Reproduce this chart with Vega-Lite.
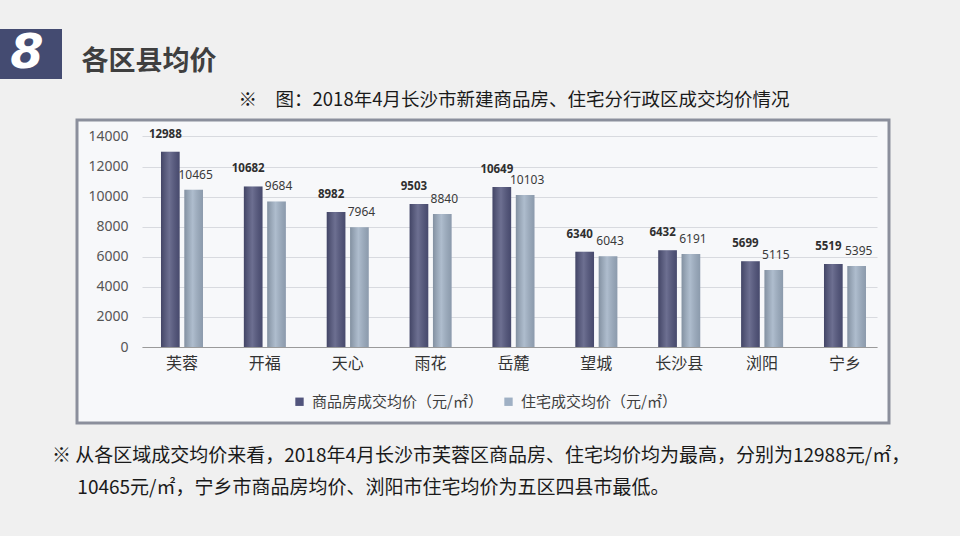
{
  "$schema": "https://vega.github.io/schema/vega-lite/v6.json",
  "background": "#f0f0f0",
  "padding": {"left": 0, "top": 29, "right": 60, "bottom": 50},
  "config": {
    "font": "Noto Sans CJK SC",
    "view": {"stroke": null},
    "title": {"fontWeight": "normal"}
  },
  "title": {
    "text": [
      "※ 从各区域成交均价来看，2018年4月长沙市芙蓉区商品房、住宅均价均为最高，分别为12988元/㎡，",
      "\u200b\u2003\u2004\u200b10465元/㎡，宁乡市商品房均价、浏阳市住宅均价为五区四县市最低。"
    ],
    "orient": "bottom",
    "anchor": "start",
    "dx": 52,
    "offset": 22,
    "fontSize": 19,
    "lineHeight": 32,
    "fontWeight": "normal",
    "color": "#1a1a1a"
  },
  "spacing": 13,
  "hconcat": [
    {
      "width": 62,
      "height": 50,
      "view": {"fill": "#444b71", "stroke": null},
      "data": {"values": [{"t": "8"}]},
      "mark": {"type": "text", "font": "DejaVu Sans", "fontSize": 48, "fontWeight": "bold", "fontStyle": "italic", "color": "#ffffff", "dx": -4, "baseline": "middle"},
      "encoding": {"text": {"field": "t"}}
    },
    {
      "spacing": 10,
      "vconcat": [
        {
          "width": 144,
          "height": 50,
          "data": {"values": [{"t": "各区县均价"}]},
          "mark": {"type": "text", "fontSize": 27, "fontWeight": "bold", "color": "#3f3f3f", "baseline": "middle", "dy": 8},
          "encoding": {"text": {"field": "t"}}
        },
        {
          "width": 812,
          "height": 303,
          "title": {
            "text": "※　图：2018年4月长沙市新建商品房、住宅分行政区成交均价情况",
            "anchor": "middle",
            "dx": 31,
            "offset": 11,
            "fontSize": 18.5,
            "fontWeight": "normal",
            "color": "#1a1a1a"
          },
          "view": {"fill": "#f7f8fa", "stroke": "#8b8f9c", "strokeWidth": 3},
          "data": {
            "values": [
              {"区": "芙蓉", "类型": "商品房成交均价（元/㎡）", "均价": 12988},
              {"区": "芙蓉", "类型": "住宅成交均价（元/㎡）", "均价": 10465},
              {"区": "开福", "类型": "商品房成交均价（元/㎡）", "均价": 10682},
              {"区": "开福", "类型": "住宅成交均价（元/㎡）", "均价": 9684},
              {"区": "天心", "类型": "商品房成交均价（元/㎡）", "均价": 8982},
              {"区": "天心", "类型": "住宅成交均价（元/㎡）", "均价": 7964},
              {"区": "雨花", "类型": "商品房成交均价（元/㎡）", "均价": 9503},
              {"区": "雨花", "类型": "住宅成交均价（元/㎡）", "均价": 8840},
              {"区": "岳麓", "类型": "商品房成交均价（元/㎡）", "均价": 10649},
              {"区": "岳麓", "类型": "住宅成交均价（元/㎡）", "均价": 10103},
              {"区": "望城", "类型": "商品房成交均价（元/㎡）", "均价": 6340},
              {"区": "望城", "类型": "住宅成交均价（元/㎡）", "均价": 6043},
              {"区": "长沙县", "类型": "商品房成交均价（元/㎡）", "均价": 6432},
              {"区": "长沙县", "类型": "住宅成交均价（元/㎡）", "均价": 6191},
              {"区": "浏阳", "类型": "商品房成交均价（元/㎡）", "均价": 5699},
              {"区": "浏阳", "类型": "住宅成交均价（元/㎡）", "均价": 5115},
              {"区": "宁乡", "类型": "商品房成交均价（元/㎡）", "均价": 5519},
              {"区": "宁乡", "类型": "住宅成交均价（元/㎡）", "均价": 5395}
            ]
          },
          "encoding": {
            "x": {
              "field": "区",
              "type": "nominal",
              "sort": null,
              "scale": {"range": [65, 800], "paddingInner": 0.4932, "paddingOuter": 0.181, "align": 0.633},
              "axis": {
                "title": null,
                "orient": "bottom",
                "offset": -76,
                "labelAngle": 0,
                "labelFontSize": 16,
                "labelColor": "#333333",
                "labelPadding": 8,
                "ticks": false,
                "domain": true,
                "domainColor": "#9a9a9a",
                "grid": false
              }
            },
            "xOffset": {
              "field": "类型",
              "type": "nominal",
              "scale": {"domain": ["商品房成交均价（元/㎡）", "住宅成交均价（元/㎡）"], "paddingInner": 0.2, "paddingOuter": 0}
            },
            "y": {
              "field": "均价",
              "type": "quantitative",
              "scale": {"domain": [-5054, 15097], "nice": false, "zero": false},
              "axis": {
                "title": null,
                "values": [0, 2000, 4000, 6000, 8000, 10000, 12000, 14000],
                "format": "d",
                "offset": -55,
                "labelFont": "Noto Sans",
                "labelFontSize": 14,
                "labelColor": "#555555",
                "labelPadding": 4,
                "ticks": false,
                "domain": false,
                "grid": true,
                "gridColor": "#d8dadf"
              }
            }
          },
          "layer": [
            {
              "mark": {"type": "bar"},
              "encoding": {
                "color": {
                  "field": "类型",
                  "type": "nominal",
                  "scale": {"domain": ["商品房成交均价（元/㎡）", "住宅成交均价（元/㎡）"], "range": ["#51547c", "#9fb0c4"]},
                  "legend": {
                    "title": null,
                    "orient": "none",
                    "legendX": 292,
                    "legendY": 365,
                    "direction": "horizontal",
                    "symbolType": "square",
                    "symbolSize": 70,
                    "symbolStrokeWidth": 0,
                    "labelFontSize": 15,
                    "labelColor": "#404040",
                    "labelOffset": 5,
                    "labelLimit": 400,
                    "columnPadding": 18
                  }
                }
              }
            },
            {
              "mark": {
                "type": "bar",
                "fill": {
                  "gradient": "linear",
                  "x1": 0, "x2": 1, "y1": 0, "y2": 0,
                  "stops": [
                    {"offset": 0, "color": "rgba(0,0,0,0.18)"},
                    {"offset": 0.45, "color": "rgba(255,255,255,0.16)"},
                    {"offset": 1, "color": "rgba(0,0,0,0.12)"}
                  ]
                }
              }
            },
            {
              "transform": [{"filter": {"field": "类型", "equal": "商品房成交均价（元/㎡）"}}],
              "mark": {"type": "text", "font": "Noto Sans", "fontSize": 11.5, "fontWeight": "bold", "color": "#2f2f2f", "baseline": "middle", "dx": -5, "dy": -17},
              "encoding": {"text": {"field": "均价", "type": "quantitative", "format": "d"}}
            },
            {
              "transform": [{"filter": {"field": "类型", "equal": "住宅成交均价（元/㎡）"}}],
              "mark": {"type": "text", "font": "Noto Sans", "fontSize": 12, "color": "#3a3a3a", "baseline": "middle", "dx": 2, "dy": -15},
              "encoding": {"text": {"field": "均价", "type": "quantitative", "format": "d"}}
            }
          ]
        }
      ]
    }
  ]
}
